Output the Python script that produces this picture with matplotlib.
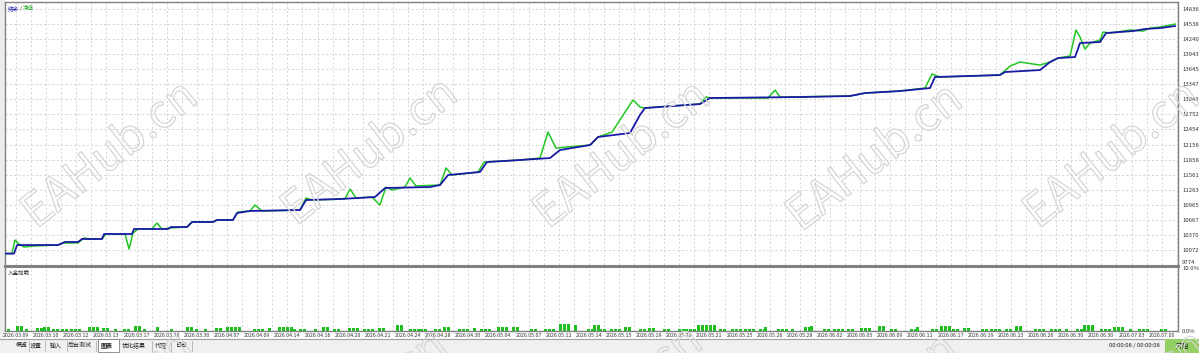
import numpy as np
import matplotlib
matplotlib.use("Agg")
import matplotlib.pyplot as plt
import matplotlib.patheffects as pe
from matplotlib.lines import Line2D
from matplotlib.patches import Rectangle

plt.rcParams['font.family'] = ['Noto Sans CJK SC', 'DejaVu Sans']

W, H = 1199, 353

# ---------------- data ----------------
date_labels = ["2026.03.09", "2026.03.10", "2026.03.12", "2026.03.13", "2026.03.17",
               "2026.03.20", "2026.03.30", "2026.04.07", "2026.04.09", "2026.04.14",
               "2026.04.16", "2026.04.20", "2026.04.21", "2026.04.24", "2026.04.28",
               "2026.04.30", "2026.05.04", "2026.05.07", "2026.05.12", "2026.05.14",
               "2026.05.15", "2026.05.19", "2026.05.20", "2026.05.21", "2026.05.25",
               "2026.05.26", "2026.05.28", "2026.06.02", "2026.06.05", "2026.06.09",
               "2026.06.11", "2026.06.17", "2026.06.19", "2026.06.23", "2026.06.26",
               "2026.06.30", "2026.06.30", "2026.07.03", "2026.07.06"]

y_tick_labels = ["9774", "10072", "10370", "10667", "10965", "11263", "11561", "11858",
                 "12156", "12454", "12752", "13049", "13347", "13645", "13943", "14240",
                 "14538", "14836"]

balance_x = [-0.73, -0.13, 0.07, 2.79, 3.25, 4.11, 4.38, 5.70, 5.84, 7.69, 7.83, 10.08,
             10.28, 11.34, 11.68, 13.07, 13.33, 14.39, 14.66, 15.52, 18.84, 19.24, 21.49,
             23.81, 24.48, 27.46, 28.13, 28.66, 30.78, 31.24, 33.43, 35.42, 36.09, 38.08,
             38.61, 40.73, 41.39, 41.72, 45.37, 46.04, 52.01, 55.32, 56.32, 58.64, 60.63,
             60.96, 65.27, 65.61, 67.93, 68.59, 69.12, 70.25, 70.58, 71.91, 72.31, 74.10,
             74.89, 75.89, 76.88]
balance_v = [10000, 10000, 10169, 10169, 10229, 10229, 10288, 10288, 10387, 10387, 10486,
             10486, 10525, 10525, 10624, 10624, 10664, 10664, 10802, 10842, 10861, 11059,
             11079, 11118, 11296, 11316, 11356, 11553, 11613, 11810, 11850, 11889, 12048,
             12146, 12305, 12384, 12740, 12878, 12957, 13076, 13095, 13115, 13174, 13214,
             13273, 13491, 13530, 13590, 13629, 13787, 13866, 13886, 14163, 14183, 14361,
             14400, 14440, 14459, 14499]

equity_x = [-0.73, -0.27, -0.07, 0.20, 0.53, 1.26, 2.79, 3.12, 4.11, 4.51, 4.91, 5.70,
            5.97, 7.23, 7.50, 7.76, 8.09, 9.02, 9.35, 9.68, 10.22, 11.34, 11.68, 13.07,
            13.33, 14.39, 14.73, 15.52, 15.85, 16.32, 18.84, 19.24, 19.64, 21.82, 22.16,
            22.55, 23.61, 24.14, 24.54, 24.94, 25.80, 26.14, 26.53, 28.13, 28.53, 28.93,
            30.65, 31.05, 33.43, 34.76, 35.29, 35.82, 38.08, 38.61, 39.54, 40.40, 40.93,
            41.39, 41.72, 45.37, 45.77, 46.04, 49.88, 50.35, 50.68, 55.32, 56.32, 58.64,
            60.30, 60.76, 61.29, 65.27, 65.94, 66.60, 67.93, 68.59, 69.12, 69.92, 70.31,
            70.58, 70.91, 71.25, 71.91, 72.11, 72.57, 73.90, 74.76, 75.23, 75.89, 76.88]
equity_v = [10000, 10000, 10268, 10189, 10130, 10150, 10169, 10209, 10209, 10308, 10288,
            10288, 10387, 10387, 10090, 10406, 10486, 10486, 10604, 10486, 10505, 10525,
            10624, 10624, 10664, 10664, 10822, 10842, 10960, 10842, 10861, 11098, 11059,
            11079, 11277, 11098, 11118, 10960, 11316, 11257, 11316, 11494, 11336, 11356,
            11692, 11553, 11613, 11810, 11850, 11889, 12403, 12087, 12146, 12305, 12403,
            12799, 13036, 12898, 12878, 12957, 13095, 13076, 13076, 13234, 13095, 13115,
            13174, 13214, 13273, 13550, 13491, 13530, 13708, 13787, 13728, 13787, 13866,
            13906, 14420, 14282, 14044, 14163, 14222, 14380, 14361, 14420, 14400, 14459,
            14479, 14538]

load_groups_x = [-0.6, 0.0, 0.6, 1.3, 1.8, 2.4, 3.0, 3.6, 4.8, 5.7, 6.5, 7.1, 7.8, 8.4,
                 9.3, 10.2, 11.3, 11.9, 12.5, 13.2, 13.9, 15.7, 16.7, 17.4, 18.4,
                 18.8, 19.8, 20.3, 21.0, 22.0, 23.0, 24.0, 25.2, 26.1, 26.8, 27.7, 28.3,
                 29.3, 30.3, 30.8, 31.9, 32.9, 34.1, 35.0, 36.0, 37.0, 37.9, 38.3,
                 38.7, 39.4, 40.3, 41.3, 41.9, 42.9, 43.9, 44.4, 45.2, 46.6, 47.4, 48.3,
                 49.3, 49.6, 50.5, 51.4, 52.3, 52.7, 53.5, 54.2, 55.1, 56.0, 57.2,
                 58.0, 59.3, 59.7, 60.7, 61.3, 62.1, 62.8, 64.0, 64.6, 65.6, 66.3, 67.5,
                 68.6, 69.6, 70.3, 70.8, 71.9, 72.8, 73.8, 74.4, 75.9]
load_groups_n = [1, 2, 1, 2, 2, 2, 2, 3, 3, 2, 1, 2, 2, 1, 1, 1, 2, 1, 1, 2, 4, 3, 1, 4,
                 1, 2, 1, 2, 2, 3, 3, 2, 2, 3, 2, 2, 2, 3, 1, 3, 3, 2, 2, 3, 3, 1, 2,
                 2, 2, 3, 2, 2, 2, 2, 2, 3, 5, 2, 3, 3, 2, 1, 3, 1, 2, 1, 2, 3, 2, 3,
                 2, 2, 2, 1, 2, 3, 2, 2, 2, 3, 2, 2, 3, 3, 1, 2, 3, 3, 3, 1, 3, 2]
load_groups_pct = [0.3, 0.8, 0.3, 0.5, 0.6, 0.3, 0.3, 0.3, 0.6, 0.5, 0.3, 0.3, 0.8, 0.3,
                   0.6, 0.3, 0.6, 0.3, 0.3, 0.5, 0.6, 0.3, 0.5, 0.6, 0.3, 0.3, 0.3, 0.6,
                   0.3, 0.5, 0.3, 0.5, 0.9, 0.3, 0.3, 0.3, 0.6, 0.3, 0.5, 0.3, 0.6, 0.6,
                   0.3, 0.3, 1.1, 0.95, 0.3, 0.95, 0.3, 0.3, 0.6, 0.3, 0.5, 0.3, 0.3,
                   0.3, 0.9, 0.3, 0.3, 0.3, 0.3, 0.6, 0.3, 0.3, 0.6, 0.8, 0.3, 0.3,
                   0.3, 0.4, 0.8, 0.3, 0.3, 0.6, 0.3, 0.8, 0.3, 0.5, 0.3, 0.3, 0.3, 0.8,
                   0.3, 0.3, 0.3, 0.3, 0.95, 0.3, 0.6, 0.3, 0.3, 0.3, 0.3, 0.3]

tab_names = ["概览", "设置", "输入", "后台测试", "图表", "优化结果", "代理", "日志"]

# ---------------- figure ----------------
fig = plt.figure(figsize=(W / 100, H / 100), dpi=100)
fig.patch.set_facecolor('white')

def fx(px):
    return px / W

def fy(py):
    return 1 - py / H

x_left, x_right = 5, 1178
ax = fig.add_axes([fx(x_left), fy(265), fx(x_right - x_left), (265 - 2) / H])
ax2 = fig.add_axes([fx(x_left), fy(331), fx(x_right - x_left), (331 - 266) / H])

XMIN, XMAX = -0.73, 77.08
tick_vals = [float(v) for v in y_tick_labels]
step = (tick_vals[-1] - tick_vals[0]) / (len(tick_vals) - 1)
YMIN = tick_vals[0]
YMAX = tick_vals[-1] + step * 7 / 15.07

grid_kw = dict(color='#d6d6d6', linewidth=0.7, linestyle=(0, (2.2, 2.2)))

for a in (ax, ax2):
    a.set_xlim(XMIN, XMAX)
    for s in a.spines.values():
        s.set_color('#808080')
        s.set_linewidth(1.0)
    a.set_xticks(np.arange(0, 77.1, 1.0))
    a.tick_params(axis='both', length=0)
    a.xaxis.grid(True, **grid_kw)
    a.set_axisbelow(True)

ax.set_ylim(YMIN, YMAX)
ax.set_yticks(tick_vals)
ax.yaxis.tick_right()
ax.set_yticklabels(y_tick_labels, fontsize=4.3, color='#333333')
ax.tick_params(axis='y', pad=3)
ax.yaxis.grid(True, **grid_kw)
ax.set_xticklabels([])
ax.spines['bottom'].set_visible(False)
ax.get_yticklabels()[0].set_verticalalignment('bottom')

ax.plot(equity_x, equity_v, color='#22c622', linewidth=1.1, zorder=3, solid_joinstyle='round')
ax.plot(balance_x, balance_v, color='#1a1aa6', linewidth=1.3, zorder=4, solid_joinstyle='round')

ax.text(0.002, 0.985, "结余", transform=ax.transAxes, fontsize=4, color='#1a1aa6', va='top', ha='left')
ax.text(0.0125, 0.985, "/", transform=ax.transAxes, fontsize=4, color='#333333', va='top', ha='left')
ax.text(0.0155, 0.985, "净值", transform=ax.transAxes, fontsize=4, color='#22aa22', va='top', ha='left')

# lower panel
ax2.set_ylim(0, 10)
ax2.set_yticks([0, 10])
ax2.yaxis.tick_right()
ax2.set_yticklabels(["0.0%", "10.0%"], fontsize=4.3, color='#333333')
ax2.tick_params(axis='y', pad=3)
ax2.get_yticklabels()[1].set_verticalalignment('top')
ax2.spines['top'].set_visible(False)
ax2.set_xticks(np.arange(0, 77.1, 1.0))
ax2.set_xticklabels([date_labels[i // 2] if i % 2 == 0 and i // 2 < len(date_labels) else ""
                     for i in range(78)], fontsize=3.8, color='#333333')
ax2.tick_params(axis='x', pad=1.5)
ax2.text(0.002, 0.94, "入金加载", transform=ax2.transAxes, fontsize=4, color='#222222', va='top', ha='left')

bar_step = 4 / 15.075
bx, bh = [], []
for gx, gn, gp in zip(load_groups_x, load_groups_n, load_groups_pct):
    for k in range(gn):
        bx.append(gx + k * bar_step)
        bh.append(gp)
ax2.bar(bx, bh, width=3 / 15.075, align='edge', color='#1fbf1f', edgecolor='none', zorder=3)

# separator between panels
fig.add_artist(Line2D([fx(x_left), fx(x_right)], [fy(265.5), fy(265.5)], color='#808080',
                      linewidth=2.2, transform=fig.transFigure))

# left gray margin
fig.add_artist(Rectangle((0, fy(338)), fx(4.5), 1 - fy(338), transform=fig.transFigure,
                         facecolor='#ececec', edgecolor='none', zorder=-1))

# bottom tab bar
fig.add_artist(Rectangle((0, 0), 1, fy(338.5), transform=fig.transFigure,
                         facecolor='#f0f0f0', edgecolor='none', zorder=1))
fig.add_artist(Line2D([0, 1], [fy(338.5), fy(338.5)], color='#a0a0a0', linewidth=0.8,
                      transform=fig.transFigure, zorder=2))
tab_centers = [22, 36, 56, 80, 107, 134, 161, 182]
tab_seps = [29, 45, 67, 96, 118, 152, 171, 192]
for name, cx in zip(tab_names, tab_centers):
    bold = name == "图表"
    fig.text(fx(cx), fy(345.5), name, fontsize=4.3, ha='center', va='center',
             color='#222222', fontweight='bold' if bold else 'normal', zorder=4)
for sx in tab_seps:
    fig.add_artist(Line2D([fx(sx), fx(sx)], [fy(341), fy(351)], color='#b0b0b0',
                          linewidth=0.6, transform=fig.transFigure, zorder=3))
fig.add_artist(Rectangle((fx(97.5), fy(352)), fx(21), (352 - 338.5) / H, transform=fig.transFigure,
                         facecolor='white', edgecolor='#808080', linewidth=0.6, zorder=3))

fig.text(fx(1134), fy(346), "00:00:08 / 00:00:08", fontsize=4.3, ha='center', va='center',
         color='#222222', zorder=4)
fig.add_artist(Rectangle((fx(1165), 0), fx(34), fy(339), transform=fig.transFigure,
                         facecolor='#93cf62', edgecolor='none', zorder=3))
fig.text(fx(1182), fy(346), "开始", fontsize=4.8, ha='center', va='center', color='#1a1a1a', zorder=4)

# watermarks (hollow outlined text, partly outside the window like the screenshot)
wm_centers = [(110, 155), (370, 152), (622, 155), (875, 158), (1112, 155),
              (105, 405), (360, 405), (615, 400), (870, 408), (1120, 405)]
for cx, cy in wm_centers:
    fig.text(fx(cx), fy(cy), "EAHub.cn", fontsize=33, rotation=38, ha='center', va='center',
             color=(1, 1, 1, 0), zorder=10,
             path_effects=[pe.Stroke(linewidth=0.9, foreground='#d6d6d6')])

fig.savefig("out.png", dpi=100)
